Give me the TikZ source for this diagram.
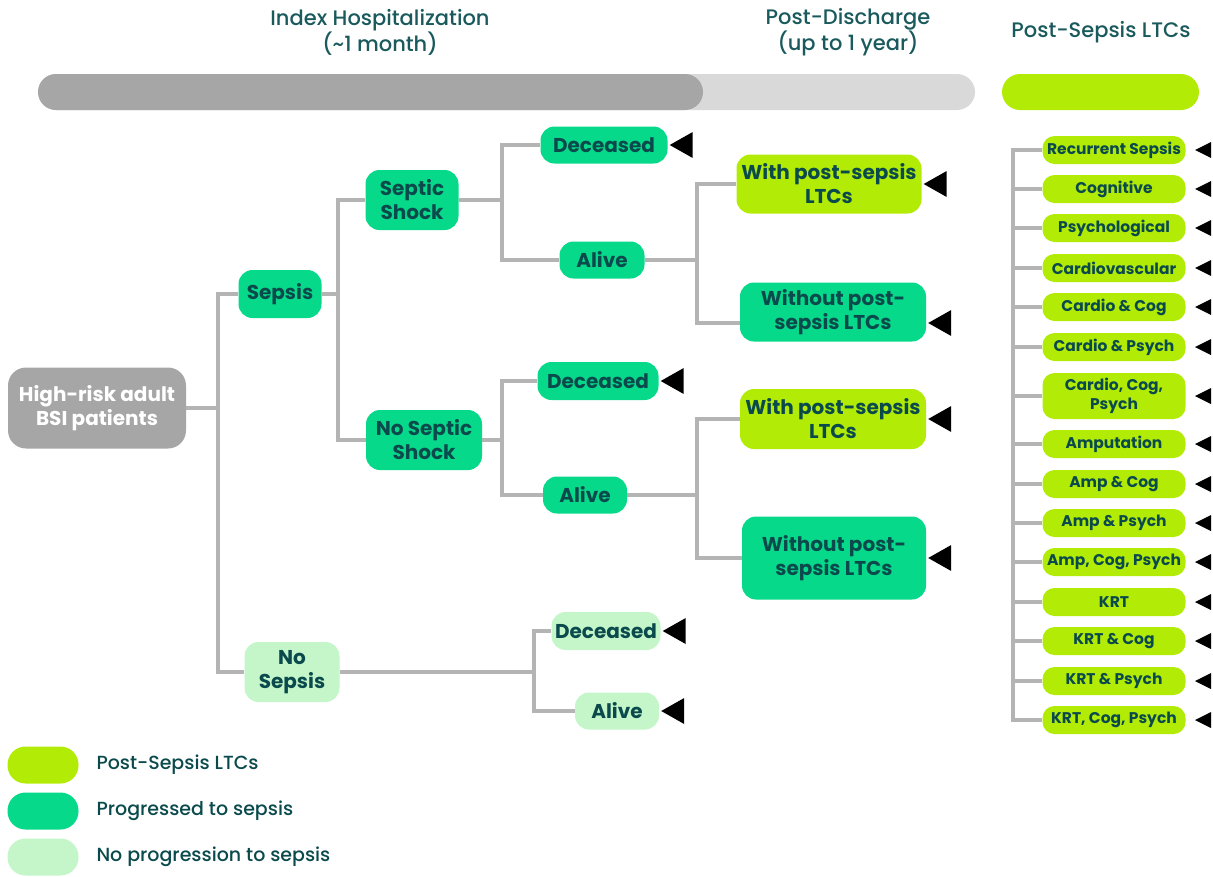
\documentclass[tikz,border=0pt]{standalone}
\usepackage{fontspec}
\setmainfont{Poppins}
\newfontfamily\medfont{Poppins Medium}

\definecolor{limeltc}{HTML}{B2EC06}
\definecolor{sepgreen}{HTML}{07D98A}
\definecolor{nosep}{HTML}{C4F6CA}
\definecolor{rootgray}{HTML}{A6A6A6}
\definecolor{barlight}{HTML}{D9D9D9}
\definecolor{linkgray}{HTML}{B4B4B4}
\definecolor{txt}{HTML}{0B4A4C}
\definecolor{headtxt}{HTML}{1A5A5C}

\tikzset{
  box/.style={rounded corners=14pt, align=center, inner sep=0pt, text=txt,
    font=\bfseries\fontsize{20}{24}\selectfont},
  ltc/.style={box, fill=limeltc},
  prog/.style={box, fill=sepgreen},
  noprog/.style={box, fill=nosep},
  small/.style={ltc, rounded corners=12pt, minimum width=143pt, minimum height=28pt,
    font=\bfseries\fontsize{15.5}{19}\selectfont},
  link/.style={draw=linkgray, line width=4pt},
  head/.style={text=headtxt, align=center, font=\medfont\fontsize{21}{24}\selectfont},
  key/.style={anchor=west, text=txt, font=\medfont\fontsize{19}{22}\selectfont},
}
% black pointer to the right of a node
\newcommand{\pointer}[2][0pt]{\fill ([xshift=2pt,yshift=#1]#2.east) -- ++(23,-13) -- ++(0,26) -- cycle;}

\begin{document}
\begin{tikzpicture}[x=1pt, y=-1pt]
  \useasboundingbox (0,0) rectangle (1213,876);

  % headings and time bars
  \node[head] (hosp) at (380,32) {Index Hospitalization\\(\textasciitilde1 month)};
  \node[head] (disch) at (848,32) {Post-Discharge\\(up to 1 year)};
  \node[head] (ltchead) at (1101,32) {Post-Sepsis LTCs};
  \fill[barlight, rounded corners=18pt] (38,74) rectangle (975,110);
  \fill[rootgray, rounded corners=18pt] (38,74) rectangle (703,110);
  \fill[limeltc, rounded corners=18pt] (1002,74) rectangle (1199,110);

  % tree
  \node[box, fill=rootgray, text=white, minimum width=178pt, minimum height=81pt, rounded corners=18pt]
    (root) at (97,408) {High-risk adult\\BSI patients};
  \node[prog, minimum width=83pt, minimum height=48pt] (sepsis) at (280,294) {Sepsis};
  \node[noprog, minimum width=95pt, minimum height=60pt] (nosepsis) at (292,672) {No\\Sepsis};
  \node[prog, minimum width=93pt, minimum height=60pt] (shock) at (412,200) {Septic\\Shock};
  \node[prog, minimum width=116pt, minimum height=60pt] (noshock) at (424,440) {No Septic\\Shock};

  \node[prog, minimum width=127pt, minimum height=37pt] (dead1) at (604,145) {Deceased};
  \node[prog, minimum width=85pt, minimum height=37pt] (alive1) at (602,260) {Alive};
  \node[ltc, minimum width=185pt, minimum height=59pt] (with1) at (829,184) {With post-sepsis\\LTCs};
  \node[prog, minimum width=186pt, minimum height=59pt] (without1) at (833,312) {Without post-\\sepsis LTCs};

  \node[prog, minimum width=121pt, minimum height=38pt] (dead2) at (598,381) {Deceased};
  \node[prog, minimum width=84pt, minimum height=37pt] (alive2) at (585,495) {Alive};
  \node[ltc, minimum width=186pt, minimum height=60pt] (with2) at (833,419) {With post-sepsis\\LTCs};
  \node[prog, minimum width=184pt, minimum height=83pt] (without2) at (834,558) {Without post-\\sepsis LTCs};

  \node[noprog, minimum width=109pt, minimum height=38pt] (dead3) at (606,631) {Deceased};
  \node[noprog, minimum width=84pt, minimum height=37pt] (alive3) at (617,711) {Alive};

  \draw[link] (root.east) -- ++(32,0) |- (sepsis.west);
  \draw[link] (root.east) -- ++(32,0) |- (nosepsis.west);
  \draw[link] (sepsis.east) -- ++(16,0) |- (shock.west);
  \draw[link] (sepsis.east) -- ++(16,0) |- (noshock.west);
  \draw[link] (shock.east) -- ++(43,0) |- (dead1.west);
  \draw[link] (shock.east) -- ++(43,0) |- (alive1.west);
  \draw[link] (alive1.east) -- ++(52,0) |- (with1.west);
  \draw[link] (alive1.east) -- ++(52,0) |- ([yshift=-11pt]without1.west);
  \draw[link] (noshock.east) -- ++(20,0) |- (dead2.west);
  \draw[link] (noshock.east) -- ++(20,0) |- (alive2.west);
  \draw[link] (alive2.east) -- ++(70,0) |- (with2.west);
  \draw[link] (alive2.east) -- ++(70,0) |- (without2.west);
  \draw[link] (nosepsis.east) -- ++(194,0) |- (dead3.west);
  \draw[link] (nosepsis.east) -- ++(194,0) |- (alive3.west);

  \pointer{dead1}
  \pointer{with1}
  \pointer[-11pt]{without1}
  \pointer{dead2}
  \pointer{with2}
  \pointer{without2}
  \pointer{dead3}
  \pointer{alive3}

  % post-sepsis LTC list
  \coordinate (spine) at (1013,150);
  \coordinate (mk) at (1195,150);
  \foreach \y/\h/\lab [count=\i] in {150/28/Recurrent Sepsis, 189/28/Cognitive, 228/28/Psychological,
      268/28/Cardiovascular, 307/28/Cardio \& Cog, 347/28/Cardio \& Psych, 396/46/{Cardio, Cog,\\Psych},
      444/28/Amputation, 484/28/Amp \& Cog, 523/28/Amp \& Psych, 562/28/{Amp, Cog, Psych}, 602/28/KRT,
      641/28/KRT \& Cog, 681/28/KRT \& Psych, 720/28/{KRT, Cog, Psych}} {
    \node[small, minimum height=\h pt] (c\i) at (1114,\y) {\lab};
    \fill (c\i.east -| mk) -- ++(16,-8) -- ++(0,16) -- cycle;
  }
  \draw[link] (c1.west) -- (c1.west -| spine) |- (c15.west);
  \foreach \i in {2,...,14} \draw[link] (c\i.west) -- (c\i.west -| spine);

  % legend
  \node[ltc, minimum width=71pt, minimum height=37pt, rounded corners=18pt] (keyltc) at (43,765) {};
  \node[prog, minimum width=71pt, minimum height=37pt, rounded corners=18pt] (keyprog) at (43,811) {};
  \node[noprog, minimum width=71pt, minimum height=37pt, rounded corners=18pt] (keynoprog) at (43,857) {};
  \node[key] (keyltctext) at (93,765) {Post-Sepsis LTCs};
  \node[key] (keyprogtext) at (93,811) {Progressed to sepsis};
  \node[key] (keynoprogtext) at (93,857) {No progression to sepsis};
\end{tikzpicture}
\end{document}
